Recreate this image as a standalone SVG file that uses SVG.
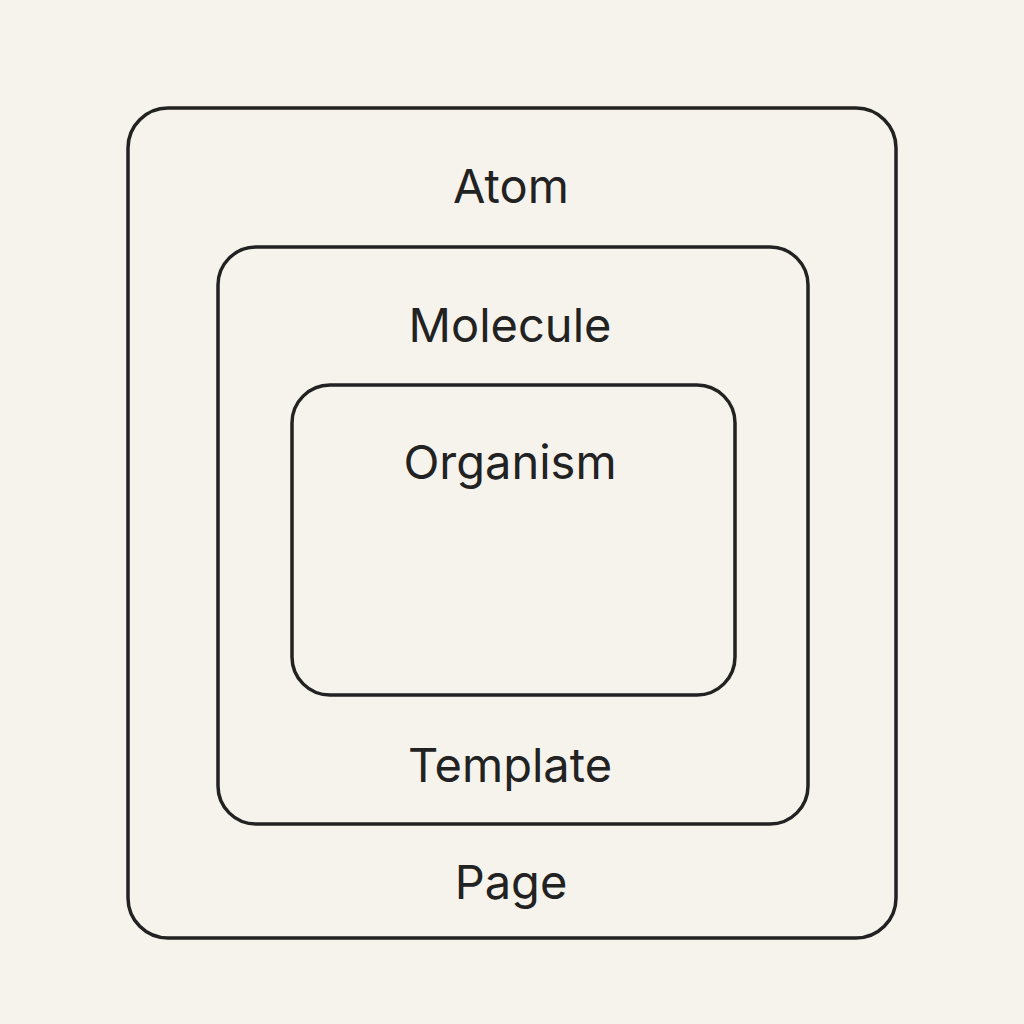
<svg xmlns="http://www.w3.org/2000/svg" width="1024" height="1024" viewBox="0 0 1024 1024">
<style>
.box{fill:none;stroke:#222;stroke-width:3.5}
.t{font-family:Inter,"Liberation Sans",sans-serif;font-size:47px;fill:#222;text-anchor:middle}
</style>
<rect width="1024" height="1024" fill="#f6f3ec"/>
<g id="page"><rect class="box" x="128" y="108" width="768" height="830" rx="40"/><text class="t" x="511" y="203">Atom</text><text class="t" x="511" y="899">Page</text></g>
<g id="molecule"><rect class="box" x="218" y="247" width="590" height="577" rx="38"/><text class="t" x="510" y="342">Molecule</text><text class="t" x="510" y="782">Template</text></g>
<g id="organism"><rect class="box" x="292" y="385" width="443" height="310" rx="38"/><text class="t" x="510" y="479">Organism</text></g>
<g id="connectors"/>
</svg>
